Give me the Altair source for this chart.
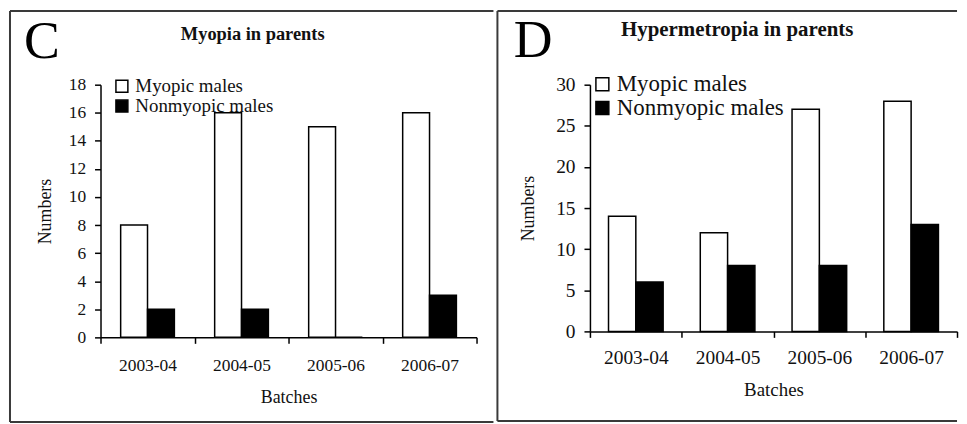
import altair as alt
import pandas as pd

# ---- data ----
batches = ["2003-04", "2004-05", "2005-06", "2006-07"]
series = ["Myopic males", "Nonmyopic males"]

myopia_myopic = [8, 16, 15, 16]
myopia_nonmyopic = [2, 2, 0, 3]

hyper_myopic = [14, 12, 27, 28]
hyper_nonmyopic = [6, 8, 8, 13]

ticks_c = [0, 2, 4, 6, 8, 10, 12, 14, 16, 18]
ticks_d = [0, 5, 10, 15, 20, 25, 30]

FONT = "Liberation Serif"
INK = "#111111"
BORDER = "#3a3a3a"


def panel(myopic, nonmyopic, letter, title, ticks, st):
    df = pd.DataFrame({
        "Batch": batches * 2,
        "Group": [series[0]] * len(batches) + [series[1]] * len(batches),
        "Value": myopic + nonmyopic,
    })
    one = pd.DataFrame({"k": [0]})

    bars = alt.Chart(df).mark_bar(stroke="black", strokeWidth=1.5).encode(
        x=alt.X("Batch:N", sort=batches,
                scale=alt.Scale(paddingInner=0, paddingOuter=0),
                axis=alt.Axis(title="Batches", labelAngle=0, tickBand="extent",
                              domainColor="black", domainWidth=1.5,
                              tickColor="black", tickWidth=1.5, tickSize=6,
                              labelFont=FONT, labelFontSize=st["lfs"], labelColor=INK,
                              labelPadding=st["xlp"],
                              titleFont=FONT, titleFontSize=st["tfs"], titleFontWeight="normal",
                              titleColor=INK, titlePadding=st["xtp"])),
        xOffset=alt.XOffset("Group:N", sort=series,
                            scale=alt.Scale(paddingInner=0, paddingOuter=st["po"])),
        y=alt.Y("Value:Q",
                scale=alt.Scale(domain=[ticks[0], ticks[-1]], nice=False),
                axis=alt.Axis(title="Numbers", values=ticks, grid=False,
                              domainColor="black", domainWidth=1.5,
                              tickColor="black", tickWidth=1.5, tickSize=6,
                              labelFont=FONT, labelFontSize=st["lfs"], labelColor=INK,
                              labelPadding=9,
                              titleFont=FONT, titleFontSize=st["yfs"], titleFontWeight="normal",
                              titleColor=INK, titlePadding=st["ytp"])),
        color=alt.Color("Group:N", sort=series,
                        scale=alt.Scale(domain=series, range=["white", "black"]),
                        legend=alt.Legend(title=None, orient="none",
                                          legendX=st["lx"], legendY=st["ly"],
                                          symbolType="square", symbolSize=st["ss"],
                                          symbolStrokeColor="black", symbolStrokeWidth=1.5,
                                          labelFont=FONT, labelFontSize=st["gfs"],
                                          labelColor=INK, labelOffset=st["lo"],
                                          labelLimit=400,
                                          rowPadding=st["rp"], padding=0)),
    )

    layers = [bars]
    for (x1, x2, y1, y2) in st["rules"]:
        enc = {"x": alt.value(x1), "y": alt.value(y1)}
        if x2 is not None:
            enc["x2"] = alt.value(x2)
        if y2 is not None:
            enc["y2"] = alt.value(y2)
        layers.append(alt.Chart(one).mark_rule(color=BORDER, strokeWidth=2).encode(**enc))

    layers.append(alt.Chart(one).mark_text(
        text=letter, font=FONT, fontSize=st["letfs"], align="center",
        baseline="alphabetic", color="black").encode(
        x=alt.value(st["letx"]), y=alt.value(st["lety"])))
    layers.append(alt.Chart(one).mark_text(
        text=title, font=FONT, fontSize=st["titfs"], fontWeight="bold", align="center",
        baseline="middle", color=INK).encode(
        x=alt.value(st["titx"]), y=alt.value(st["tity"])))

    return alt.layer(*layers).properties(width=st["W"], height=st["H"])


style_c = dict(W=378, H=254, po=0.75, lfs=17.5, tfs=18, yfs=18, xlp=13, xtp=15, ytp=14,
               lx=12, ly=-8, ss=144, gfs=19, rp=-1, lo=4,
               rules=[(-91, 395, -74, None), (-91, 395, 339, None),
                      (-91, None, -74, 339)],
               letfs=54, letx=-59, lety=-27,
               titfs=18.5, titx=153, tity=-51)

style_d = dict(W=369, H=248, po=0.68, lfs=19.5, tfs=19, yfs=18, xlp=11, xtp=14, ytp=18,
               lx=1, ly=-12, ss=169, gfs=23, rp=-2, lo=3,
               rules=[(-93, 369, -74, None), (-93, 369, 338, None),
                      (-93, None, -74, 338)],
               letfs=54, letx=-57, lety=-28,
               titfs=21, titx=148, tity=-55)

left = panel(myopia_myopic, myopia_nonmyopic, "C", "Myopia in parents", ticks_c, style_c)
right = panel(hyper_myopic, hyper_nonmyopic, "D", "Hypermetropia in parents", ticks_d, style_d)

chart = alt.hconcat(left, right, spacing=0).resolve_scale(
    color="independent", x="independent", y="independent", xOffset="independent"
).properties(
    padding={"left": 0, "top": 0, "right": 0, "bottom": 0}
).configure_view(stroke="transparent")

chart.save("out.html", embed_options={"renderer": "svg", "actions": False})
